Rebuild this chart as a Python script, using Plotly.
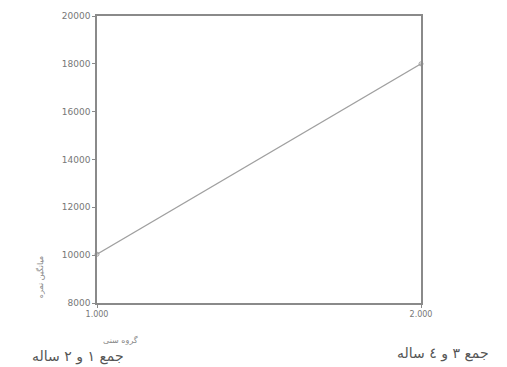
import plotly.graph_objects as go

x_vals = [1.0, 2.0]
y_vals = [10040, 18000]
y_ticks = [8000, 10000, 12000, 14000, 16000, 18000, 20000]
y_tick_labels = ["8000", "10000", "12000", "14000", "16000", "18000", "20000"]
x_ticks = [1.0, 2.0]
x_tick_labels = ["1.000", "2.000"]
group_labels = ["جمع ۱ و ۲ ساله", "جمع ۳ و ٤ ساله"]
x_title = "گروه سنی"
y_title = "میانگین نمره"

fig = go.Figure()
fig.add_trace(go.Scatter(
    x=x_vals, y=y_vals, mode="lines+markers",
    line=dict(color="#a0a0a0", width=1.2),
    marker=dict(size=4, color="#a0a0a0", symbol="circle-open"),
    cliponaxis=False, showlegend=False,
))

fig.update_layout(
    width=507, height=367,
    margin=dict(l=89, r=94, t=3, b=72),
    paper_bgcolor="white", plot_bgcolor="white",
    font=dict(family="DejaVu Sans", color="#666"),
    xaxis=dict(range=[1, 2], tickvals=x_ticks, ticktext=x_tick_labels,
               showgrid=False, zeroline=False, showline=True, mirror=True,
               linecolor="#8a8a8a", linewidth=1.5, ticks="outside", ticklen=3,
               tickcolor="#8a8a8a", tickfont=dict(size=8, color="#777")),
    yaxis=dict(range=[8000, 20000], tickvals=y_ticks, ticktext=y_tick_labels,
               showgrid=False, zeroline=False, showline=True, mirror=True,
               linecolor="#8a8a8a", linewidth=1.5, ticks="outside", ticklen=3,
               tickcolor="#8a8a8a", tickfont=dict(size=9, color="#777")),
)

fig.add_annotation(text=x_title, xref="paper", yref="paper", x=0.071, y=-0.13,
                   xanchor="center", yanchor="middle",
                   showarrow=False, font=dict(size=8, color="#888"))
fig.add_annotation(text=y_title, xref="paper", yref="paper", x=-0.176, y=0.09,
                   xanchor="center", yanchor="middle",
                   textangle=-90, showarrow=False, font=dict(size=8, color="#888"))
fig.add_annotation(text=group_labels[0], xref="paper", yref="paper", x=-0.059, y=-0.185,
                   xanchor="center", yanchor="middle",
                   showarrow=False, font=dict(size=14, color="#555"))
fig.add_annotation(text=group_labels[1], xref="paper", yref="paper", x=1.068, y=-0.175,
                   xanchor="center", yanchor="middle",
                   showarrow=False, font=dict(size=14, color="#555"))

fig.write_html("out.html")
